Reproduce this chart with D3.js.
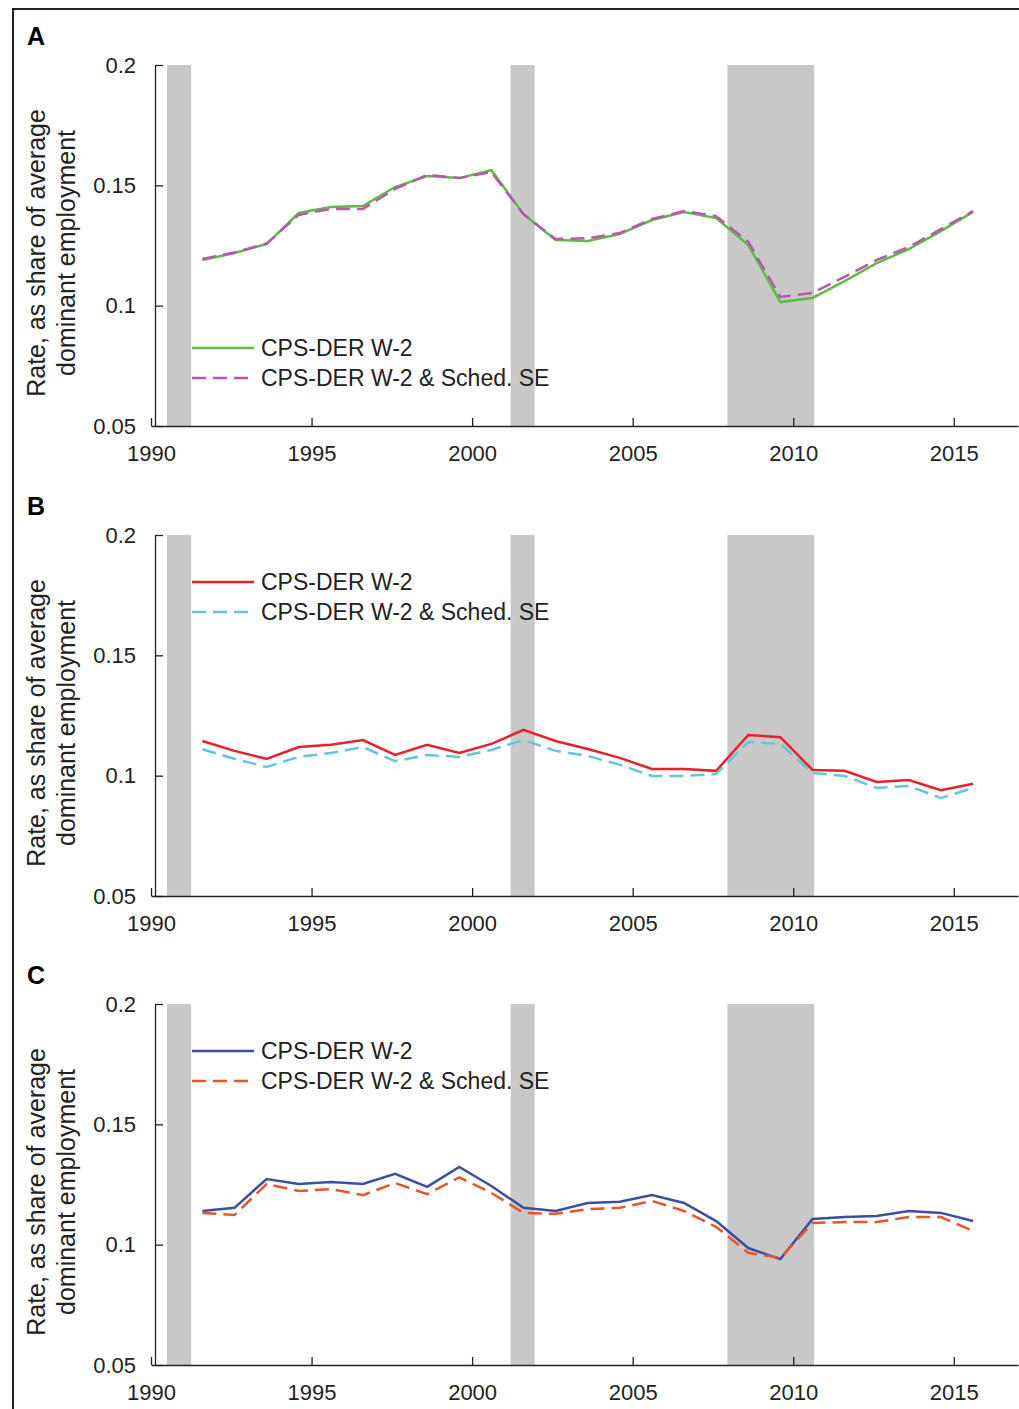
<!DOCTYPE html>
<html><head><meta charset="utf-8">
<script src="https://cdn.jsdelivr.net/npm/d3@7"></script>
<style>body{margin:0;background:#fff}text{font-family:"Liberation Sans",Arial,sans-serif}</style>
</head><body>
<script>
var years = d3.range(25).map(function(i){ return 1991.6 + i; });
var recessions = [[1990.5, 1991.25], [2001.2, 2001.95], [2007.95, 2010.65]];
var yTicks = [0.05, 0.1, 0.15, 0.2];
var xTicks = [1990, 1995, 2000, 2005, 2010, 2015];
var seriesNames = ["CPS-DER W-2", "CPS-DER W-2 & Sched. SE"];

var aW2 = [0.119,0.1219,0.1256,0.1385,0.141,0.1414,0.1493,0.1539,0.153,0.1563,0.138,0.1273,0.1269,0.1298,0.1356,0.1389,0.1364,0.1252,0.1015,0.1032,0.1102,0.1177,0.1235,0.131,0.139];
var aSE = [0.1194,0.1221,0.1258,0.1377,0.1402,0.1402,0.1485,0.1543,0.153,0.1555,0.138,0.1277,0.128,0.1302,0.136,0.1393,0.1372,0.1265,0.1036,0.1053,0.112,0.119,0.1244,0.1318,0.1393];
var bW2 = [0.1144,0.1103,0.107,0.1119,0.1128,0.1148,0.1086,0.1128,0.1094,0.1132,0.119,0.1144,0.1111,0.1074,0.1028,0.1028,0.102,0.1169,0.116,0.1024,0.102,0.0974,0.0982,0.094,0.0966];
var bSE = [0.111,0.107,0.1036,0.1078,0.1094,0.1119,0.106,0.1086,0.1078,0.1107,0.1148,0.1103,0.1082,0.1045,0.0999,0.0999,0.1007,0.114,0.1132,0.1011,0.0999,0.0949,0.0957,0.0907,0.0949];
var cW2 = [0.114,0.1153,0.1273,0.1252,0.126,0.1252,0.1294,0.124,0.1323,0.1244,0.1153,0.114,0.1173,0.1178,0.1206,0.1173,0.1098,0.0986,0.094,0.1107,0.1115,0.1119,0.114,0.1132,0.1098];
var cSE = [0.1132,0.1123,0.1252,0.1223,0.1231,0.1206,0.1256,0.121,0.128,0.1215,0.1132,0.1128,0.1148,0.1153,0.1182,0.114,0.1074,0.0966,0.0945,0.109,0.1094,0.1094,0.1115,0.1115,0.1057];

var panels = [
  {label:"A", top:65, s1:aW2, s2:aSE, c1:"#5dbb46", c2:"#b857b0", legY:348},
  {label:"B", top:535, s1:bW2, s2:bSE, c1:"#e8202a", c2:"#62c6dc", legY:582},
  {label:"C", top:1004, s1:cW2, s2:cSE, c1:"#3a4ea3", c2:"#e8552a", legY:1051}
];

var svg = d3.select("body").append("svg").attr("width", 1019).attr("height", 1409);
svg.append("rect").attr("x", 13).attr("y", 9).attr("width", 1020).attr("height", 1420)
  .attr("fill", "none").attr("stroke", "#222").attr("stroke-width", 2);

var x = d3.scaleLinear().domain([1990, 2017]).range([151, 1018]);

panels.forEach(function(p) {
  var y = d3.scaleLinear().domain([0.05, 0.2]).range([p.top + 361, p.top]);
  var g = svg.append("g");
  g.selectAll("rect.rec").data(recessions).enter().append("rect")
    .attr("x", function(d){ return x(d[0]); }).attr("width", function(d){ return x(d[1]) - x(d[0]); })
    .attr("y", y(0.2)).attr("height", y(0.05) - y(0.2)).attr("fill", "#c8c8c8");

  var xa = g.append("g").attr("transform", "translate(0," + y(0.05) + ")")
    .call(d3.axisBottom(x).tickValues(xTicks).tickFormat(d3.format("d")).tickSizeInner(-8).tickSizeOuter(0).tickPadding(19));
  var ya = g.append("g").attr("transform", "translate(" + 155 + ",0)")
    .call(d3.axisLeft(y).tickValues(yTicks).tickFormat(function(d){ return d === 0.2 ? "0.2" : d3.format(".2~f")(d); }).tickSizeInner(-8).tickSizeOuter(0).tickPadding(19));
  [xa, ya].forEach(function(a){
    a.selectAll("path,line").attr("stroke", "#222").attr("stroke-width", 1.3);
    a.selectAll("text").attr("font-size", 22).attr("fill", "#222").style("font-family", "Liberation Sans, Arial, sans-serif");
  });

  var line = d3.line().x(function(d, i){ return x(years[i]); }).y(function(d){ return y(d); });
  g.append("path").datum(p.s1).attr("d", line).attr("fill", "none").attr("stroke", p.c1).attr("stroke-width", 2.5);
  g.append("path").datum(p.s2).attr("d", line).attr("fill", "none").attr("stroke", p.c2).attr("stroke-width", 2.5).attr("stroke-dasharray", "14,7");

  g.append("text").attr("x", 27).attr("y", p.top - 20).attr("font-size", 25).attr("font-weight", "bold").text(p.label);
  var cy = p.top + 188;
  g.append("text").attr("transform", "translate(45," + cy + ") rotate(-90)").attr("text-anchor", "middle").attr("font-size", 25).attr("fill", "#222").text("Rate, as share of average");
  g.append("text").attr("transform", "translate(75," + cy + ") rotate(-90)").attr("text-anchor", "middle").attr("font-size", 25).attr("fill", "#222").text("dominant employment");

  [p.c1, p.c2].forEach(function(c, i) {
    var ly = p.legY + i * 30;
    g.append("line").attr("x1", 192).attr("x2", 254).attr("y1", ly).attr("y2", ly)
      .attr("stroke", c).attr("stroke-width", 2.5).attr("stroke-dasharray", i ? "14,7" : null);
    g.append("text").attr("x", 261).attr("y", ly + 8).attr("font-size", 23).attr("fill", "#222").text(seriesNames[i]);
  });
});
</script>
</body></html>
